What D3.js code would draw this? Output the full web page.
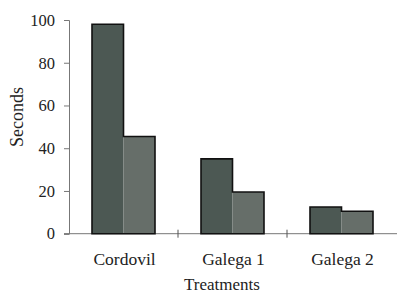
<!DOCTYPE html>
<html>
<head>
<meta charset="utf-8">
<script src="https://cdn.jsdelivr.net/npm/d3@7"></script>
<style>
  body { margin: 0; background: #fff; }
  text { font-family: "Liberation Serif", "Times New Roman", serif; fill: #222; }
</style>
</head>
<body>
<div id="chart"></div>
<script>
// Data
const treatments = ["Cordovil", "Galega 1", "Galega 2"];
const series1 = [98, 35, 12.5];
const series2 = [45.5, 19.5, 10.5];
const yTicks = [0, 20, 40, 60, 80, 100];

const width = 397, height = 297;
const margin = {top: 20, right: 1, bottom: 63, left: 69};

const svg = d3.select("#chart")
    .append("svg")
    .attr("width", width)
    .attr("height", height);

const x = d3.scaleBand()
    .domain(treatments)
    .range([margin.left, width - margin.right]);

const y = d3.scaleLinear()
    .domain([0, 100])
    .range([height - margin.bottom - 0.3, margin.top]);

const barW = 31.5;

const data = treatments.map((t, i) => ({t: t, a: series1[i], b: series2[i]}));

// x axis line and category ticks (under the bars)
const xAxis = svg.append("g")
    .attr("transform", `translate(0,${y(0)})`);
xAxis.append("line")
    .attr("x1", margin.left - 5)
    .attr("x2", width)
    .attr("stroke", "#777");
xAxis.selectAll("line.tk")
    .data(treatments.slice(1))
    .enter()
    .append("line")
    .attr("class", "tk")
    .attr("x1", d => x(d))
    .attr("x2", d => x(d))
    .attr("y1", -4)
    .attr("y2", 4)
    .attr("stroke", "#555");

const g = svg.append("g");

// fills
g.selectAll("rect.a")
    .data(data)
    .enter()
    .append("rect")
    .attr("class", "a")
    .attr("x", d => x(d.t) + x.bandwidth() / 2 - barW)
    .attr("y", d => y(d.a))
    .attr("width", barW)
    .attr("height", d => y(0) - y(d.a))
    .attr("fill", "#4c5853");

g.selectAll("rect.b")
    .data(data)
    .enter()
    .append("rect")
    .attr("class", "b")
    .attr("x", d => x(d.t) + x.bandwidth() / 2)
    .attr("y", d => y(d.b))
    .attr("width", barW)
    .attr("height", d => y(0) - y(d.b))
    .attr("fill", "#666e69");

// outline round each pair of bars
g.selectAll("path.outline")
    .data(data)
    .enter()
    .append("path")
    .attr("class", "outline")
    .attr("d", d => {
        const c = x(d.t) + x.bandwidth() / 2;
        const p = d3.path();
        p.moveTo(c - barW, y(0));
        p.lineTo(c - barW, y(d.a));
        p.lineTo(c, y(d.a));
        p.lineTo(c, y(d.b));
        p.lineTo(c + barW, y(d.b));
        p.lineTo(c + barW, y(0));
        p.closePath();
        return p.toString();
    })
    .attr("fill", "none")
    .attr("stroke", "#111")
    .attr("stroke-width", 1.6);

// y axis
const yAxis = svg.append("g")
    .attr("transform", `translate(${margin.left},0)`)
    .call(d3.axisLeft(y).tickValues(yTicks).tickSize(5).tickPadding(9));
yAxis.select(".domain").attr("stroke", "#777");
yAxis.selectAll(".tick line").attr("stroke", "#777");
yAxis.selectAll("text")
    .style("font-size", "16.5px")
    .style("font-family", "Liberation Serif, serif")
    .attr("fill", "#222");

svg.selectAll("text.cat")
    .data(treatments)
    .enter()
    .append("text")
    .attr("class", "cat")
    .attr("x", d => x(d) + x.bandwidth() / 2 + 1)
    .attr("y", 265)
    .attr("text-anchor", "middle")
    .style("font-size", "17.5px")
    .text(d => d);

// axis titles
svg.append("text")
    .attr("x", 222)
    .attr("y", 290)
    .attr("text-anchor", "middle")
    .style("font-size", "17px")
    .text("Treatments");

svg.append("text")
    .attr("transform", "translate(23,117) rotate(-90)")
    .attr("text-anchor", "middle")
    .style("font-size", "18px")
    .text("Seconds");
</script>
</body>
</html>
